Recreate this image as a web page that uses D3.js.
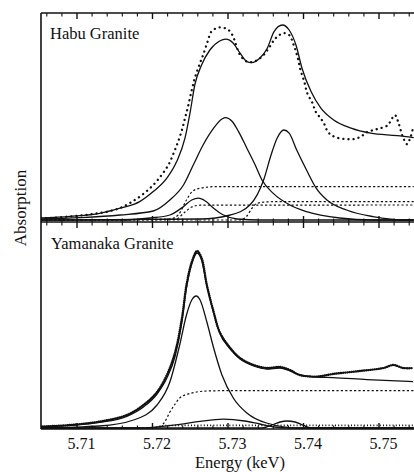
<!DOCTYPE html>
<html>
<head>
<meta charset="utf-8">
<script src="https://cdn.jsdelivr.net/npm/d3@7"></script>
<style>
  html, body { margin: 0; padding: 0; background: #fff; }
  svg { display: block; }
  text { font-family: "Liberation Serif", "LiberationSerif", "Times New Roman", Times, Tinos, "DejaVu Serif", "Noto Serif", FreeSerif, serif; fill: #111; }
</style>
</head>
<body>
<svg id="chart" width="414" height="472"></svg>
<script>
// Energy axis ticks (keV)
const MAJOR_TICKS = [5.71, 5.72, 5.73, 5.74, 5.75];
const MINOR_TICKS = [5.706, 5.708, 5.712, 5.714, 5.716, 5.718, 5.722, 5.724, 5.726, 5.728,
  5.732, 5.734, 5.736, 5.738, 5.742, 5.744, 5.746, 5.748, 5.752, 5.754];

// Habu Granite — measured spectrum [energy, absorption]
const habuData = [
  [5.7052, 0.010], [5.7064, 0.010], [5.7077, 0.013], [5.7091, 0.018], [5.7104, 0.022],
  [5.7117, 0.028], [5.7130, 0.035], [5.7144, 0.045], [5.7157, 0.060], [5.7170, 0.085],
  [5.7186, 0.125], [5.7201, 0.175], [5.7212, 0.225], [5.7221, 0.275], [5.7228, 0.334],
  [5.7234, 0.392], [5.7239, 0.450], [5.7243, 0.509], [5.7247, 0.567], [5.7252, 0.650],
  [5.7256, 0.709], [5.7262, 0.775], [5.7267, 0.825], [5.7273, 0.892], [5.7278, 0.942],
  [5.7287, 0.962], [5.7296, 0.959], [5.7303, 0.942], [5.7308, 0.905], [5.7316, 0.825],
  [5.7325, 0.792], [5.7334, 0.792], [5.7345, 0.817], [5.7354, 0.859], [5.7361, 0.900],
  [5.7368, 0.925], [5.7374, 0.934], [5.7381, 0.925], [5.7387, 0.875], [5.7392, 0.817],
  [5.7396, 0.750], [5.7401, 0.692], [5.7405, 0.634], [5.7412, 0.584], [5.7416, 0.542],
  [5.7421, 0.517], [5.7427, 0.484], [5.7432, 0.442], [5.7438, 0.422], [5.7447, 0.409],
  [5.7458, 0.404], [5.7467, 0.405], [5.7476, 0.417], [5.7484, 0.439], [5.7493, 0.450],
  [5.7502, 0.459], [5.7511, 0.472], [5.7515, 0.492], [5.7521, 0.525], [5.7526, 0.484],
  [5.7531, 0.422], [5.7537, 0.379], [5.7542, 0.417], [5.7545, 0.459]
];
// Habu Granite — total fit
const habuFit = [
  [5.7052, 0.010], [5.7091, 0.018], [5.7130, 0.033], [5.7157, 0.059], [5.7183, 0.092],
  [5.7201, 0.142], [5.7219, 0.209], [5.7232, 0.292], [5.7243, 0.409], [5.7250, 0.542],
  [5.7256, 0.675], [5.7265, 0.775], [5.7276, 0.850], [5.7289, 0.895], [5.7297, 0.904],
  [5.7307, 0.884], [5.7316, 0.834], [5.7325, 0.792], [5.7331, 0.787], [5.7342, 0.809],
  [5.7352, 0.859], [5.7361, 0.942], [5.7372, 0.975], [5.7381, 0.950], [5.7390, 0.875],
  [5.7398, 0.759], [5.7410, 0.642], [5.7423, 0.559], [5.7440, 0.500], [5.7463, 0.459],
  [5.7489, 0.434], [5.7524, 0.422], [5.7546, 0.412]
];
// Habu Granite — fitted peaks
const habuPeak1 = [
  [5.7052, 0.005], [5.7104, 0.012], [5.7157, 0.025], [5.7201, 0.045], [5.7223, 0.100],
  [5.7241, 0.175], [5.7254, 0.275], [5.7267, 0.375], [5.7281, 0.459], [5.7292, 0.505],
  [5.7297, 0.512], [5.7305, 0.495], [5.7314, 0.442], [5.7325, 0.359], [5.7336, 0.275],
  [5.7345, 0.200], [5.7360, 0.133], [5.7382, 0.075], [5.7404, 0.042], [5.7448, 0.010],
  [5.7492, 0.000], [5.7546, 0.000]
];
const habuPeak2 = [
  [5.7052, 0.000], [5.7263, 0.005], [5.7303, 0.025], [5.7329, 0.075], [5.7348, 0.209],
  [5.7357, 0.325], [5.7365, 0.409], [5.7374, 0.450], [5.7381, 0.434], [5.7391, 0.350],
  [5.7404, 0.250], [5.7417, 0.158], [5.7431, 0.100], [5.7457, 0.050], [5.7492, 0.017],
  [5.7537, 0.000], [5.7546, 0.000]
];
const habuPeak3 = [
  [5.7052, 0.000], [5.7157, 0.000], [5.7197, 0.010], [5.7223, 0.025], [5.7241, 0.067],
  [5.7252, 0.100], [5.7261, 0.109], [5.7270, 0.095], [5.7281, 0.059], [5.7294, 0.025],
  [5.7312, 0.005], [5.7342, 0.000], [5.7546, 0.000]
];
// Habu Granite — edge steps (dashed)
const habuStepA = [
  [5.7052, 0.000], [5.7223, 0.005], [5.7234, 0.025], [5.7245, 0.100], [5.7252, 0.140],
  [5.7263, 0.159], [5.7285, 0.167], [5.7546, 0.167]
];
const habuStepB = [
  [5.7052, 0.000], [5.7316, 0.000], [5.7325, 0.020], [5.7332, 0.060], [5.7338, 0.082],
  [5.7349, 0.090], [5.7369, 0.092], [5.7546, 0.092]
];
const habuStepC = [
  [5.7052, 0.000], [5.7230, 0.003], [5.7243, 0.040], [5.7252, 0.065], [5.7263, 0.074],
  [5.7546, 0.075]
];

// Yamanaka Granite — measured spectrum
const yamaData = [
  [5.7051, 0.007], [5.7091, 0.015], [5.7130, 0.032], [5.7166, 0.065], [5.7188, 0.115],
  [5.7206, 0.180], [5.7219, 0.265], [5.7230, 0.380], [5.7239, 0.550], [5.7245, 0.715],
  [5.7252, 0.830], [5.7259, 0.885], [5.7265, 0.850], [5.7272, 0.715], [5.7281, 0.580],
  [5.7289, 0.480], [5.7303, 0.400], [5.7316, 0.350], [5.7334, 0.315], [5.7351, 0.300],
  [5.7369, 0.305], [5.7382, 0.290], [5.7395, 0.265], [5.7417, 0.257], [5.7439, 0.270],
  [5.7475, 0.285], [5.7506, 0.300], [5.7519, 0.315], [5.7532, 0.300], [5.7545, 0.300]
];
const yamaFit = [
  [5.7051, 0.005], [5.7130, 0.028], [5.7166, 0.058], [5.7188, 0.105], [5.7206, 0.170],
  [5.7219, 0.250], [5.7230, 0.360], [5.7239, 0.530], [5.7245, 0.700], [5.7252, 0.820],
  [5.7259, 0.875], [5.7265, 0.840], [5.7272, 0.710], [5.7281, 0.575], [5.7289, 0.475],
  [5.7303, 0.395], [5.7316, 0.345], [5.7334, 0.310], [5.7351, 0.295], [5.7369, 0.300],
  [5.7382, 0.285], [5.7395, 0.265], [5.7417, 0.255], [5.7439, 0.252], [5.7484, 0.242],
  [5.7545, 0.232]
];
const yamaPeak1 = [
  [5.7051, 0.000], [5.7130, 0.010], [5.7175, 0.040], [5.7206, 0.115], [5.7223, 0.230],
  [5.7236, 0.415], [5.7245, 0.565], [5.7252, 0.640], [5.7258, 0.660], [5.7263, 0.640],
  [5.7272, 0.530], [5.7281, 0.400], [5.7292, 0.265], [5.7307, 0.150], [5.7325, 0.075],
  [5.7351, 0.025], [5.7395, 0.000], [5.7546, 0.000]
];
const yamaPeak2 = [
  [5.7051, 0.000], [5.7183, 0.000], [5.7236, 0.018], [5.7263, 0.033], [5.7294, 0.044],
  [5.7322, 0.035], [5.7342, 0.020], [5.7362, 0.005], [5.7382, 0.000], [5.7546, 0.000]
];
const yamaPeak3 = [
  [5.7051, 0.000], [5.7345, 0.000], [5.7358, 0.015], [5.7369, 0.030], [5.7378, 0.035],
  [5.7389, 0.030], [5.7400, 0.013], [5.7411, 0.000], [5.7546, 0.000]
];
const yamaStepA = [
  [5.7052, 0.000], [5.7197, 0.000], [5.7206, 0.002], [5.7217, 0.035], [5.7223, 0.080],
  [5.7230, 0.120], [5.7236, 0.150], [5.7250, 0.173], [5.7272, 0.185], [5.7307, 0.187],
  [5.7546, 0.187]
];
const yamaStepB = [
  [5.7052, 0.000], [5.7197, 0.000], [5.7217, 0.012], [5.7240, 0.013], [5.7546, 0.013]
];

const svg = d3.select('#chart');
const X0 = 41, X1 = 416;
const TOP = 13, MID = 222, BOT = 429;

const x = d3.scaleLinear().domain([5.71, 5.75]).range([77, 379]);
const yTop = d3.scaleLinear().domain([0, 1]).range([220, 20]);
const yBot = d3.scaleLinear().domain([0, 1]).range([428, 228]);

svg.append('defs').append('clipPath').attr('id', 'clip')
  .append('rect').attr('x', X0).attr('y', TOP).attr('width', X1 - X0).attr('height', BOT - TOP);

const plot = svg.append('g').attr('clip-path', 'url(#clip)');

function draw(data, y, style) {
  const line = d3.line()
    .x(d => x(d[0]))
    .y(d => y(d[1]))
    .curve(style.curve || d3.curveMonotoneX);
  plot.append('path')
    .datum(data)
    .attr('d', line)
    .attr('fill', 'none')
    .attr('stroke', '#111')
    .attr('stroke-width', style.width || 1.3)
    .attr('stroke-dasharray', style.dash || null)
    .attr('stroke-linecap', style.cap || 'butt');
}

const solid = { width: 1.3 };
const dashed = { width: 1.2, dash: '2.2 2.2' };
const dots = { width: 2.3, dash: '0.1 5', cap: 'round', curve: d3.curveCatmullRom };
const denseDots = { width: 2.4, dash: '0.1 2.0', cap: 'round', curve: d3.curveCatmullRom };

// Habu panel
[habuStepA, habuStepB, habuStepC].forEach(s => draw(s, yTop, dashed));
[habuPeak1, habuPeak2, habuPeak3].forEach(p => draw(p, yTop, solid));
draw(habuFit, yTop, solid);
draw(habuData, yTop, dots);

// Yamanaka panel
draw(yamaStepA, yBot, dashed);
draw(yamaStepB, yBot, { width: 1.6, dash: '1 2.2' });
[yamaPeak1, yamaPeak2, yamaPeak3].forEach(p => draw(p, yBot, solid));
draw(yamaData, yBot, denseDots);
draw(yamaFit, yBot, solid);

// Frame lines
const frame = svg.append('g').attr('stroke', '#111').attr('stroke-width', 1.6);
frame.append('line').attr('x1', X0).attr('x2', X0).attr('y1', TOP).attr('y2', BOT);
[TOP, MID, BOT].forEach(yy => {
  frame.append('line').attr('x1', X0).attr('x2', X1).attr('y1', yy).attr('y2', yy);
});

// Ticks
function ticks(yy, dir) {
  const g = svg.append('g').attr('stroke', '#111');
  g.selectAll('line.maj').data(MAJOR_TICKS).join('line')
    .attr('x1', d => x(d)).attr('x2', d => x(d))
    .attr('y1', yy).attr('y2', yy + dir * 6).attr('stroke-width', 1.4);
  g.selectAll('line.min').data(MINOR_TICKS).join('line')
    .attr('x1', d => x(d)).attr('x2', d => x(d))
    .attr('y1', yy).attr('y2', yy + dir * 3.5).attr('stroke-width', 1.1);
}
ticks(TOP, 1);
ticks(MID, -1);
ticks(MID, 1);
ticks(BOT, -1);

// Tick labels via axis
const axis = d3.axisBottom(x).tickValues(MAJOR_TICKS).tickSize(0).tickFormat(d3.format('.2f'));
const axG = svg.append('g').attr('transform', `translate(0,${BOT})`).call(axis);
axG.select('.domain').remove();
axG.attr('font-family', null).attr('font-size', null);
axG.selectAll('text')
  .attr('y', 20).attr('dy', 0).attr('dx', 4)
  .style('font-size', '16px').attr('fill', '#111');

// Labels
svg.append('text').attr('x', 240).attr('y', 468).attr('text-anchor', 'middle')
  .style('font-size', '16.5px').text('Energy (keV)');
svg.append('text').attr('transform', 'translate(26,208) rotate(-90)').attr('text-anchor', 'middle')
  .style('font-size', '17px').text('Absorption');
svg.append('text').attr('x', 50).attr('y', 39).style('font-size', '16.5px').text('Habu Granite');
svg.append('text').attr('x', 51).attr('y', 249).style('font-size', '16.5px').text('Yamanaka Granite');
</script>
</body>
</html>
